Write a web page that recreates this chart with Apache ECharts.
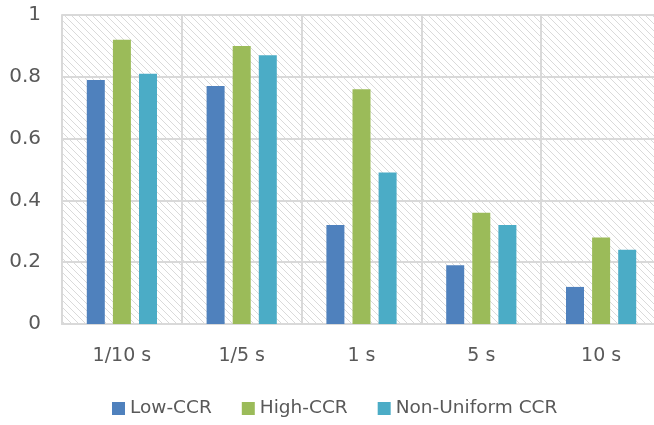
<!DOCTYPE html>
<html>
<head>
<meta charset="utf-8">
<script src="https://cdn.jsdelivr.net/npm/echarts@6/dist/echarts.min.js"></script>
<style>
  html, body { margin: 0; padding: 0; background: #fff; }
  #chart { width: 654px; height: 425px; }
</style>
</head>
<body>
<div id="chart"></div>
<script>
// Response ratio per sampling interval
const categories = ['1/10 s', '1/5 s', '1 s', '5 s', '10 s'];
const lowCCR = [0.79, 0.77, 0.32, 0.19, 0.12];
const highCCR = [0.92, 0.90, 0.76, 0.36, 0.28];
const nonUniformCCR = [0.81, 0.87, 0.49, 0.32, 0.24];
const seriesNames = ['Low-CCR', 'High-CCR', 'Non-Uniform CCR'];
const seriesColors = ['#4F81BD', '#9BBB59', '#4BACC6'];

// Light diagonal hatch used as plot-area fill
function makeHatch() {
  const size = 7;
  const c = document.createElement('canvas');
  c.width = size; c.height = size;
  const ctx = c.getContext('2d');
  ctx.fillStyle = '#ffffff';
  ctx.fillRect(0, 0, size, size);
  ctx.strokeStyle = '#dadada';
  ctx.lineWidth = 1;
  ctx.beginPath();
  ctx.moveTo(-1, -1); ctx.lineTo(size + 1, size + 1);
  ctx.moveTo(-1, size - 1); ctx.lineTo(1, size + 1);
  ctx.moveTo(size - 1, -1); ctx.lineTo(size + 1, 1);
  ctx.stroke();
  return c;
}

const font = '"DejaVu Sans", sans-serif';
const chart = echarts.init(document.getElementById('chart'), null, { renderer: 'canvas' });

chart.setOption({
  animation: false,
  color: seriesColors,
  grid: {
    left: 62, width: 599, top: 15, bottom: 101,
    outerBoundsMode: 'none',
    containLabel: false,
    show: true,
    borderWidth: 0,
    backgroundColor: { image: makeHatch(), repeat: 'repeat' }
  },
  legend: {
    bottom: 2,
    left: 107,
    itemWidth: 13, itemHeight: 13, itemGap: 30,
    icon: 'rect',
    textStyle: { fontFamily: font, fontSize: 18.5, color: '#595959' },
    data: seriesNames
  },
  xAxis: {
    type: 'category',
    data: categories,
    axisLine: { show: true, lineStyle: { color: '#d9d9d9', width: 2 } },
    axisTick: { show: false },
    splitLine: { show: true, lineStyle: { color: '#d9d9d9', width: 2 } },
    axisLabel: { fontFamily: font, fontSize: 19, color: '#595959', margin: 23 }
  },
  yAxis: {
    type: 'value',
    min: 0, max: 1, interval: 0.2,
    axisLine: { show: true, lineStyle: { color: '#d9d9d9', width: 2 } },
    axisTick: { show: false },
    splitLine: { show: true, lineStyle: { color: '#d9d9d9', width: 2 } },
    axisLabel: {
      fontFamily: font, fontSize: 20, color: '#595959', margin: 21,
      formatter: v => String(Math.round(v * 10) / 10)
    }
  },
  series: [
    { name: seriesNames[0], type: 'bar', data: lowCCR, barWidth: 18, barGap: '45%' },
    { name: seriesNames[1], type: 'bar', data: highCCR, barWidth: 18, barGap: '45%' },
    { name: seriesNames[2], type: 'bar', data: nonUniformCCR, barWidth: 18, barGap: '45%' }
  ]
});
</script>
</body>
</html>
